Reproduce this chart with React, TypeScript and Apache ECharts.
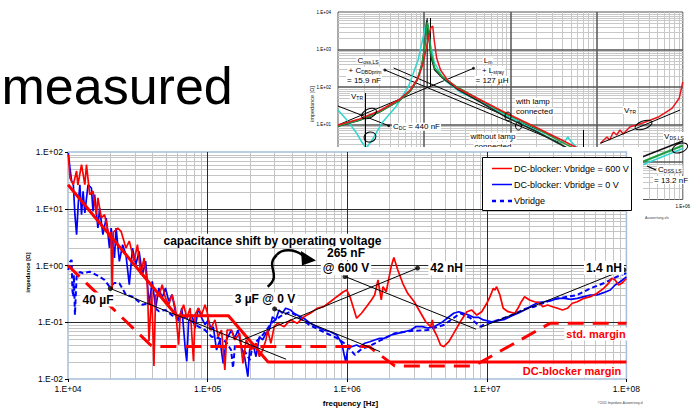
import React, { useEffect, useRef } from 'react';
import * as echarts from 'echarts';

const FONT = '"Liberation Sans", Arial, Helvetica, sans-serif';

// ---------- main chart: impedance of the DC-blocker ----------
const SERIES_600V = 'DC-blocker: Vbridge = 600 V';
const SERIES_0V = 'DC-blocker: Vbridge = 0 V';
const SERIES_VBRIDGE = 'Vbridge';

const freqRange = [1e4, 1e8];
const impRange = [1e-2, 1e2];

const red600V: number[][] = [
  [10050, 90], [10330, 34.8], [10900, 26.5], [11520, 46.3], [11770, 26.2], [12500, 59.7], [13200, 26.5],
  [13560, 59.7], [14310, 17.7], [15100, 20.5], [15960, 7.86], [16380, 15.5], [17320, 6.87], [18280, 7.86],
  [19830, 3.05], [20300, 3.89], [20720, 0.385], [21160, 3.89], [22700, 4.58], [23990, 4.0], [26000, 2.03],
  [27480, 2.7], [29780, 1.2], [31450, 2.33], [33230, 0.689], [35070, 1.355], [37000, 0.459], [38040, 0.0468],
  [39750, 0.351], [41270, 0.0169], [42430, 0.306], [44780, 0.29], [47250, 0.459], [49930, 0.267],
  [52700, 0.204], [55610, 0.306], [58760, 0.178], [62000, 0.0402], [63700, 0.136], [67300, 0.204],
  [71000, 0.119], [75000, 0.178], [79200, 0.0205], [81400, 0.136], [85900, 0.178], [90700, 0.136],
  [95800, 0.204], [99600, 0.146], [104100, 0.073], [112900, 0.11], [119100, 0.0556], [125700, 0.073],
  [132900, 0.0144], [137900, 0.073], [148000, 0.073], [156400, 0.0487], [169700, 0.0638], [179100, 0.0189],
  [188900, 0.0487], [205000, 0.0324], [222300, 0.0426], [235000, 0.0247], [248000, 0.0324], [261700, 0.0487],
  [269000, 0.073], [284000, 0.0426], [300000, 0.0835], [317000, 0.0958], [353500, 0.0835], [393500, 0.11],
  [438500, 0.0958], [489000, 0.125], [545000, 0.144], [608000, 0.176], [678000, 0.188], [756000, 0.23],
  [843000, 0.282], [940000, 0.345], [992000, 0.37], [1047000, 0.282], [1168000, 0.1175], [1266000, 0.144],
  [1374000, 0.188], [1491000, 0.247], [1573000, 0.302], [1662000, 0.555], [1754000, 0.247], [1804000, 0.423],
  [1903000, 0.345], [2065000, 0.953], [2158000, 1.39], [2304000, 0.834], [2499000, 0.486], [2711000, 0.324],
  [3020000, 0.23], [3367000, 0.144], [3650000, 0.102], [3960000, 0.0835], [4070000, 0.11], [4180000, 0.073],
  [4420000, 0.0556], [4660000, 0.0397], [4920000, 0.0371], [5340000, 0.0454], [5790000, 0.0638],
  [6460000, 0.102], [7200000, 0.1535], [7810000, 0.164], [8480000, 0.134], [9200000, 0.1535], [1.0e7, 0.216],
  [1.054e7, 0.282], [1.113e7, 0.396], [1.144e7, 0.37], [1.176e7, 0.423], [1.241e7, 0.302], [1.31e7, 0.176],
  [1.42e7, 0.1535], [1.585e7, 0.144], [1.672e7, 0.176], [1.768e7, 0.23], [1.865e7, 0.282], [2.024e7, 0.247],
  [2.195e7, 0.23], [2.382e7, 0.221], [2.513e7, 0.188], [2.727e7, 0.201], [2.959e7, 0.188], [3.21e7, 0.176],
  [3.483e7, 0.164], [3.779e7, 0.176], [4.1e7, 0.216], [4.45e7, 0.23], [4.96e7, 0.264], [5.53e7, 0.282],
  [6.16e7, 0.324], [6.87e7, 0.396], [7.45e7, 0.486], [7.86e7, 0.595], [8.3e7, 0.555], [8.78e7, 0.453],
  [9.26e7, 0.486], [1e8, 0.59],
];

const blue0V: number[][] = [
  [10050, 96], [10330, 52.2], [10620, 30.5], [10900, 28.4], [11210, 7.86], [11520, 3.49], [11830, 11.8],
  [12160, 26.5], [12500, 7.86], [12830, 20.3], [13200, 8.41], [13920, 26.5], [14710, 23.2], [15100, 9.02],
  [15510, 17.7], [16380, 4.58], [16840, 10.3], [17780, 3.49], [18780, 6.87], [19830, 2.03], [20380, 4.58],
  [21520, 1.355], [22110, 4.58], [23330, 1.186], [24630, 2.33], [26000, 1.55], [27480, 0.459], [28990, 2.03],
  [30600, 1.03], [32310, 1.78], [34100, 0.689], [36000, 1.186], [38040, 0.204], [40150, 0.527],
  [42430, 0.178], [44780, 0.402], [47250, 0.267], [49930, 0.402], [52700, 0.234], [55610, 0.306],
  [58760, 0.156], [62000, 0.104], [65420, 0.178], [69100, 0.0352], [70900, 0.0205], [73100, 0.104],
  [77200, 0.136], [81400, 0.0792], [85900, 0.178], [90700, 0.119], [95800, 0.0906], [101200, 0.11],
  [106300, 0.073], [109800, 0.0835], [115900, 0.0324], [122500, 0.0487], [129300, 0.0189], [136400, 0.0487],
  [148000, 0.073], [156400, 0.0528], [165000, 0.073], [174200, 0.0371], [184000, 0.0247], [194200, 0.011],
  [200000, 0.0324], [210700, 0.0426], [222300, 0.0247], [235000, 0.0556], [248000, 0.0487], [261700, 0.0638],
  [276400, 0.073], [291600, 0.125], [307800, 0.11], [325200, 0.164], [343100, 0.144], [362200, 0.176],
  [393500, 0.164], [415400, 0.144], [438500, 0.134], [489000, 0.1175], [545000, 0.0958], [608000, 0.0835],
  [678000, 0.073], [756000, 0.0681], [843000, 0.0596], [913000, 0.0426], [975000, 0.0202], [1020000, 0.0397],
  [1076000, 0.0371], [1168000, 0.0397], [1232000, 0.0371], [1336000, 0.0426], [1450000, 0.0454],
  [1573000, 0.0487], [1707000, 0.0521], [1842000, 0.0521], [2065000, 0.0596], [2304000, 0.0638],
  [2560000, 0.0681], [2860000, 0.073], [3100000, 0.0835], [3460000, 0.0835], [3760000, 0.0792],
  [4180000, 0.0835], [4660000, 0.0958], [5200000, 0.1175], [5790000, 0.144], [6290000, 0.1535],
  [6820000, 0.144], [7400000, 0.134], [8020000, 0.122], [8700000, 0.122], [9440000, 0.11], [1.084e7, 0.102],
  [1.207e7, 0.1065], [1.346e7, 0.1127], [1.502e7, 0.129], [1.672e7, 0.144], [1.865e7, 0.164], [2.08e7, 0.193],
  [2.318e7, 0.221], [2.586e7, 0.23], [2.885e7, 0.24], [3.21e7, 0.264], [3.584e7, 0.264], [4.0e7, 0.2535],
  [4.45e7, 0.264], [4.96e7, 0.282], [5.53e7, 0.302], [6.16e7, 0.302], [6.87e7, 0.332], [7.66e7, 0.37],
  [8.3e7, 0.453], [9.02e7, 0.518], [1e8, 0.627],
];

const vbridge: number[][] = [
  [10050, 0.834], [10330, 1.153], [10620, 1.25], [10750, 0.37], [10900, 0.282], [11020, 0.68], [11210, 0.134],
  [11520, 0.635], [12160, 0.768], [12830, 0.729], [14310, 0.778], [15510, 0.708], [16840, 0.635],
  [18280, 0.555], [19830, 0.423], [21520, 0.492], [23330, 0.486], [26000, 0.306], [28990, 0.282],
  [34100, 0.204], [38040, 0.216], [44780, 0.156], [49930, 0.164], [58760, 0.119], [69100, 0.125],
  [77200, 0.104], [85900, 0.0835], [95800, 0.073], [106800, 0.0556], [119100, 0.0528], [135800, 0.0449],
  [147300, 0.0324], [152100, 0.0156], [157000, 0.0397], [179100, 0.0352], [200600, 0.0216], [210700, 0.0397],
  [248000, 0.0596], [291600, 0.101], [343100, 0.134], [390500, 0.152], [438500, 0.129], [537000, 0.0895],
  [678000, 0.0673], [843000, 0.0528], [992000, 0.0397], [1135000, 0.0265], [1266000, 0.0338],
  [1412000, 0.0371], [1754000, 0.0487], [2180000, 0.0638], [2860000, 0.0701], [3760000, 0.073],
  [4920000, 0.0895], [6460000, 0.144], [7610000, 0.119], [8960000, 0.0835], [1e7, 0.0958], [1.144e7, 0.105],
  [1.46e7, 0.129], [1.865e7, 0.171], [2.195e7, 0.188], [2.885e7, 0.247], [3.779e7, 0.282], [4.45e7, 0.302],
  [5.53e7, 0.396], [6.87e7, 0.486], [8.54e7, 0.635], [1e8, 0.738],
];

// limit curves
const dcBlockerMargin: number[][] = [[1e4, 26.5], [6.0e4, 0.13], [1.41e5, 0.13], [2.71e5, 0.02], [1e8, 0.02]];
const stdMargin: number[][] = [
  [1e4, 1.0], [4.0e4, 0.0375], [1.43e6, 0.0375], [2.19e6, 0.017], [8.09e6, 0.017], [2.84e7, 0.096], [1e8, 0.096],
];

// asymptotes of the measured impedance (C and L fits)
const fit40uF: number[][] = [[2.01e4, 0.393], [3.65e5, 0.0223]];
const fit3uF: number[][] = [[3.02e5, 0.172], [1.72e6, 0.0304]];
const fit265nF: number[][] = [[9.64e5, 0.64], [8.36e6, 0.0755]];
const fit42nH: number[][] = [[1.71e5, 0.047], [3.19e6, 0.9]];
const fit1p4nH: number[][] = [[9.06e6, 0.0813], [9.6e7, 0.84]];
const fitMarkers: number[][] = [[2.01e4, 0.393], [3.02e5, 0.172], [9.64e5, 0.64], [3.19e6, 0.9], [9.6e7, 0.84]];

// ---------- chart behind: transformer impedance ----------
const backFreqRange = [1e2, 1e6];
const backImpRange = [1e-1, 1e4];

const lampRed: number[][] = [
  [100, 9.7], [178, 14], [299, 22.9], [504, 45], [689, 83], [850, 174], [968, 410], [1047, 970], [1132, 2290],
  [1192, 3740], [1256, 4240], [1306, 1790], [1394, 593], [1548, 284], [1858, 154], [2412, 94], [4064, 51],
  [8890, 20.3], [19450, 8.6], [39350, 3.86], [62940, 2.22],
];
const lampGreen: number[][] = [
  [100, 9.1], [178, 13.2], [299, 21.5], [504, 42.4], [689, 78], [828, 154], [943, 410], [1020, 1400],
  [1088, 5400], [1132, 3300], [1192, 860], [1324, 321], [1631, 185], [2412, 100], [4064, 51], [8890, 19],
  [19450, 8.1], [39350, 3.4], [62940, 1.97],
];
const noLampDark: number[][] = [
  [100, 9.0], [178, 13.0], [299, 21.2], [504, 42], [689, 77], [828, 150], [943, 400], [1020, 1350],
  [1074, 6100], [1132, 2290], [1192, 671], [1324, 284], [1631, 174], [2412, 88.5], [4064, 45], [8890, 15.8],
  [19450, 6.7], [39350, 2.84], [55200, 1.85],
];
const noLampCyan: number[][] = [
  [100, 24.4], [126.5, 13.2], [164, 5.93], [192, 3.21], [213, 2.36], [249, 3.86], [323, 10.96], [466, 29.3],
  [654, 100], [850, 525], [1012, 3311], [1074, 6120], [1153, 1792], [1313, 437], [1705, 154], [2609, 73.6],
  [4880, 37.4], [9620, 15.8], [19450, 7.13], [35450, 3.21], [42540, 3.48], [46380, 4.64], [50700, 3.48],
  [58200, 2.51], [71700, 1.85],
];
const hfRed: number[][] = [
  [110900, 3.15], [131700, 4.64], [141300, 3.86], [156900, 6.31], [171000, 5.25], [186800, 7.13],
  [203600, 5.58], [242500, 8.58], [343000, 10.96], [530000, 16.1], [750000, 27], [908000, 50], [1000000, 136],
];
const cDcLine: number[][] = [[100, 31], [388, 9.3]];
const cOssLineA: number[][] = [[350, 284], [39050, 3.15]];
const cOssLineB: number[][] = [[442, 321], [39350, 3.86]];
const lmLine: number[][] = [[100, 9.7], [3730, 315]];
const resonanceA: number[][] = [[1083, 6920], [1083, 100]];
const resonanceB: number[][] = [[1183, 6920], [1183, 100]];
const vTrLine: number[][] = [[110900, 3.15], [932000, 24.4]];
const vDsBlack: number[][] = [[314800, 1.28], [1e6, 3.63]];
const vDsGreen: number[][] = [[314800, 0.94], [1e6, 2.75]];
const vDsCyan: number[][] = [[314800, 0.78], [1e6, 2.29]];
const backMarkers: number[][] = [[350, 284], [3730, 315], [388, 9.3]];
// only these tick labels of the chart behind are left uncovered
const backFreqLabels = [1e6];
const backImpLabels = [1e1, 1e2, 1e3, 1e4];

function expLabel(v: number): string {
  const e = Math.round(Math.log10(v));
  return '1.E' + (e < 0 ? '-' : '+') + String(Math.abs(e)).padStart(2, '0');
}

function labelsOnly(list: number[]) {
  return (v: number) => (list.some((t) => Math.abs(Math.log10(t) - Math.log10(v)) < 1e-6) ? expLabel(v) : '');
}

// 2..9 of every decade between two powers of ten
function minorValues(from: number, to: number): number[] {
  const out: number[] = [];
  for (let d = from; d < to * 0.999; d *= 10) {
    for (let m = 2; m <= 9; m++) out.push(d * m);
  }
  return out;
}

function gridLines(values: number[], dir: 'v' | 'h', anchor: number, stroke: string, width: number, z: number) {
  return {
    type: 'custom',
    silent: true,
    z,
    data: values.map((v) => (dir === 'v' ? [v, anchor] : [anchor, v])),
    renderItem: (params: any, api: any) => {
      const cs = params.coordSys;
      const p = api.coord([api.value(0), api.value(1)]);
      if (dir === 'v') {
        const x = Math.round(p[0]) + 0.5;
        return { type: 'line', shape: { x1: x, y1: cs.y, x2: x, y2: cs.y + cs.height }, style: { stroke, lineWidth: width } };
      }
      const y = Math.round(p[1]) + 0.5;
      return { type: 'line', shape: { x1: cs.x, y1: y, x2: cs.x + cs.width, y2: y }, style: { stroke, lineWidth: width } };
    },
  };
}

function line(name: string, data: number[][], color: string, width: number, z: number, type: any = 'solid') {
  return {
    type: 'line',
    name,
    data,
    symbol: 'none',
    showSymbol: false,
    silent: true,
    z,
    lineStyle: { color, width, type, cap: 'butt' },
    itemStyle: { color },
  };
}

function label(text: string, x: number, y: number, size: number, color = '#000', align = 'center') {
  return {
    type: 'text',
    x,
    y,
    z: 100,
    silent: true,
    style: {
      text,
      fill: color,
      fontSize: size,
      fontWeight: 'bold',
      fontFamily: FONT,
      align,
      verticalAlign: 'middle',
      backgroundColor: '#fff',
      padding: [1, 2],
    },
  };
}

function logAxis(range: number[], labelSize: number, margin: number, major: string, majorWidth: number, showTicks: boolean, formatter: any) {
  return {
    type: 'log',
    logBase: 10,
    min: range[0],
    max: range[1],
    z: 3,
    axisLine: { show: false },
    axisTick: { show: showTicks, length: 3, lineStyle: { color: '#000', width: 1 } },
    axisLabel: { formatter, fontSize: labelSize, color: '#000', fontFamily: FONT, margin },
    splitLine: { show: true, showMinLine: false, showMaxLine: false, lineStyle: { color: major, width: majorWidth } },
    minorTick: { show: false },
    minorSplitLine: { show: false },
  };
}

function buildMainOption() {
  const legendRows = [
    { name: SERIES_600V, color: '#ff0000', dash: null as number[] | null, y: 21.5 },
    { name: SERIES_0V, color: '#0000ff', dash: null, y: 37.5 },
    { name: SERIES_VBRIDGE, color: '#0000ff', dash: [4, 4], y: 54 },
  ];
  const legend: any[] = [
    { type: 'rect', z: 100, silent: true, shape: { x: 482.5, y: 10.5, width: 149, height: 53 }, style: { fill: '#fff', stroke: '#000', lineWidth: 1 } },
  ];
  legendRows.forEach((r) => {
    legend.push({
      type: 'line', z: 101, silent: true,
      shape: { x1: 492, y1: r.y, x2: 512, y2: r.y },
      style: { stroke: r.color, lineWidth: r.dash ? 2.5 : 1.5, lineDash: r.dash || undefined },
    });
    legend.push({
      type: 'text', z: 101, silent: true, x: 514, y: r.y,
      style: { text: r.name, fill: '#000', fontSize: 9, fontFamily: FONT, verticalAlign: 'middle' },
    });
  });

  return {
    animation: false,
    backgroundColor: '#fff',
    grid: { left: 68, top: 5, width: 565, height: 227, show: true, backgroundColor: '#fff', borderColor: '#a7bfdc', borderWidth: 1.5 },
    xAxis: logAxis(freqRange, 8.5, 5, '#2a2a2a', 1, true, expLabel),
    yAxis: logAxis(impRange, 8.5, 5, '#2a2a2a', 1, true, expLabel),
    series: [
      gridLines(minorValues(freqRange[0], freqRange[1]), 'v', 1, '#c4c4c4', 1, 1),
      gridLines(minorValues(impRange[0], impRange[1]), 'h', 1e5, '#c4c4c4', 1, 1),
      line(SERIES_VBRIDGE, vbridge, '#0000ff', 2, 5, [5, 3]),
      line(SERIES_0V, blue0V, '#0000ff', 1.7, 6),
      line(SERIES_600V, red600V, '#ff0000', 1.7, 7),
      line('std. margin', stdMargin, '#ff0000', 3, 8, [16, 9]),
      line('DC-blocker margin', dcBlockerMargin, '#ff0000', 3, 8),
      line('40 µF', fit40uF, '#000', 1, 9),
      line('3 µF @ 0 V', fit3uF, '#000', 1, 9),
      line('265 nF @ 600 V', fit265nF, '#000', 1, 9),
      line('42 nH', fit42nH, '#000', 1, 9),
      line('1.4 nH', fit1p4nH, '#000', 1, 9),
      {
        type: 'scatter', data: fitMarkers, symbol: 'circle', symbolSize: 5, silent: true, z: 10,
        itemStyle: { color: '#000' },
      },
    ],
    graphic: [
      label('capacitance shift by operating voltage', 272.5, 93.7, 12),
      label('265 nF', 346, 106.3, 12),
      label('@ 600 V', 346, 121.3, 12),
      label('40 µF', 98, 152.5, 12),
      label('3 µF @ 0 V', 265, 152.3, 12),
      label('42 nH', 446.7, 121.3, 12),
      label('1.4 nH', 604, 120.7, 12),
      label('std. margin', 596, 187, 11, '#ff0000'),
      label('DC-blocker margin', 572, 224, 11, '#ff0000'),
      {
        type: 'bezierCurve', z: 100, silent: true,
        shape: { x1: 267.7, y1: 139.7, cpx1: 283, cpy1: 127, cpx2: 264, cpy2: 120, x2: 276.7, y2: 108 },
        style: { stroke: '#000', lineWidth: 2.5, fill: 'none' },
      },
      {
        type: 'bezierCurve', z: 100, silent: true,
        shape: { x1: 276.7, y1: 108, cpx1: 281, cpy1: 102, cpx2: 294, cpy2: 101, x2: 303, y2: 108.5 },
        style: { stroke: '#000', lineWidth: 2.5, fill: 'none' },
      },
      {
        type: 'polygon', z: 100, silent: true,
        shape: { points: [[316, 113.5], [301, 104], [302, 118.5]] },
        style: { fill: '#000' },
      },
      {
        type: 'text', z: 100, silent: true, x: 350.5, y: 256.3,
        style: { text: 'frequency [Hz]', fill: '#000', fontSize: 8, fontWeight: 'bold', fontFamily: FONT, align: 'center', verticalAlign: 'middle' },
      },
      {
        type: 'text', z: 100, silent: true, x: 28.3, y: 125.5, rotation: Math.PI / 2,
        style: { text: 'impedance [Ω]', fill: '#000', fontSize: 5.8, fontWeight: 'bold', fontFamily: FONT, align: 'center', verticalAlign: 'middle' },
      },
      {
        type: 'text', z: 100, silent: true, x: 621, y: 256,
        style: { text: '©2011 Impedanz-Auswertung.xls', fill: '#444', fontSize: 3.2, fontFamily: FONT, align: 'center', verticalAlign: 'middle' },
      },
      ...legend,
    ],
  };
}

function rich(text: string, x: number, y: number, align = 'center') {
  return {
    type: 'text', x, y, z: 100, silent: true,
    style: {
      text, align, verticalAlign: 'middle', fill: '#000', fontSize: 8, fontFamily: FONT,
      backgroundColor: '#fff', padding: [0, 1],
      rich: {
        n: { fontSize: 8, fontFamily: FONT, fill: '#000' },
        s: { fontSize: 5, fontFamily: FONT, fill: '#000', verticalAlign: 'bottom', padding: [3, 0, 0, 0] },
      },
    },
  };
}

function ellipse(x: number, y: number, rx: number, ry: number, rotation: number) {
  return {
    type: 'ellipse', x, y, rotation, z: 99, silent: true,
    shape: { cx: 0, cy: 0, rx, ry },
    style: { fill: 'none', stroke: '#000', lineWidth: 1 },
  };
}

function buildBackOption() {
  return {
    animation: false,
    backgroundColor: '#fff',
    grid: { left: 338, top: 12, width: 353, height: 187.5, show: true, backgroundColor: '#fff', borderColor: '#555', borderWidth: 1 },
    xAxis: logAxis(backFreqRange, 4.5, 4, '#555', 1.5, false, labelsOnly(backFreqLabels)),
    yAxis: logAxis(backImpRange, 4.5, 7, '#555', 1.5, false, labelsOnly(backImpLabels)),
    series: [
      gridLines(minorValues(backFreqRange[0], backFreqRange[1]), 'v', 1, '#c8c8c8', 1, 1),
      gridLines(minorValues(backImpRange[0], backImpRange[1]), 'h', 1e4, '#c8c8c8', 1, 1),
      line('C_DC', cDcLine, '#000', 1, 4),
      line('C_oss,LS a', cOssLineA, '#000', 1, 4),
      line('C_oss,LS b', cOssLineB, '#000', 1, 4),
      line('L_m + L_stray', lmLine, '#000', 1, 4),
      line('resonance a', resonanceA, '#000', 1, 4),
      line('resonance b', resonanceB, '#000', 1, 4),
      line('without lamp cyan', noLampCyan, '#2fd6cf', 1.5, 5),
      line('without lamp', noLampDark, '#1b2b1b', 1.5, 6),
      line('with lamp green', lampGreen, '#1e9e3e', 1.5, 6),
      line('with lamp', lampRed, '#e8161b', 1.5, 7),
      line('with lamp hf', hfRed, '#e8161b', 1.5, 7),
      line('V_TR', vTrLine, '#000', 1, 8),
      line('V_DS,LS', vDsBlack, '#111', 1.5, 8),
      line('V_DS,LS green', vDsGreen, '#1e9e3e', 2, 8),
      line('V_DS,LS cyan', vDsCyan, '#2fd6cf', 1.5, 8),
      {
        type: 'scatter', data: backMarkers, symbol: 'circle', symbolSize: 3, silent: true, z: 9,
        itemStyle: { color: '#000' },
      },
    ],
    graphic: [
      {
        type: 'text', x: 1.5, y: 85.5, silent: true,
        style: { text: 'measured', fill: '#000', fontSize: 52, fontFamily: FONT, verticalAlign: 'middle' },
      },
      {
        type: 'text', x: 312, y: 104, rotation: Math.PI / 2, silent: true,
        style: { text: 'impedance [Ω]', fill: '#222', fontSize: 5.5, fontFamily: FONT, align: 'center', verticalAlign: 'middle' },
      },
      { type: 'line', z: 98, silent: true, shape: { x1: 365.5, y1: 93, x2: 365.5, y2: 147 }, style: { stroke: '#000', lineWidth: 1 } },
      { type: 'line', z: 98, silent: true, shape: { x1: 583.5, y1: 130, x2: 583.5, y2: 147 }, style: { stroke: '#000', lineWidth: 1 } },
      ellipse(369, 113.5, 8, 4.5, 0.45),
      ellipse(370, 137, 6, 5, 0.3),
      ellipse(508, 116.5, 3, 4.5, 0),
      ellipse(518.5, 126, 3, 4, 0),
      ellipse(643.5, 125, 9, 4, 0.35),
      ellipse(680, 148, 8, 4.5, 0.35),
      rich('{n|C}{s|oss,LS}', 368, 60),
      rich('{n|+ C}{s|DBDprim}', 365, 70.7),
      rich('{n|= 15.9 nF}', 364, 80),
      rich('{n|L}{s|m}', 488, 60),
      rich('{n|+ L}{s|stray}', 493, 70),
      rich('{n|= 127 µH}', 492, 80),
      rich('{n|V}{s|TR}', 357, 96.7),
      rich('{n|C}{s|DC}{n| = 440 nF}', 392, 126.7, 'left'),
      rich('{n|with lamp}', 515, 101.7, 'left'),
      rich('{n|connected}', 515, 111.7, 'left'),
      rich('{n|without lamp}', 493, 136.7),
      rich('{n|connected}', 493, 146),
      rich('{n|V}{s|TR}', 630, 110),
      rich('{n|V}{s|DS,LS}', 674, 136),
      rich('{n|C}{s|DSS,LS}', 657, 169.5, 'left'),
      rich('{n|= 13.2 nF}', 653, 180, 'left'),
      { type: 'line', z: 100, silent: true, shape: { x1: 647, y1: 166, x2: 656, y2: 170 }, style: { stroke: '#000', lineWidth: 1.2 } },
      {
        type: 'text', x: 645, y: 218, silent: true,
        style: { text: 'Auswertung.xls', fill: '#444', fontSize: 3.5, fontFamily: FONT, verticalAlign: 'middle' },
      },
    ],
  };
}

export default function App() {
  const backRef = useRef<HTMLDivElement>(null);
  const mainRef = useRef<HTMLDivElement>(null);

  useEffect(() => {
    const back = echarts.init(backRef.current as HTMLDivElement, undefined, { renderer: 'svg' });
    back.setOption(buildBackOption() as any);
    const main = echarts.init(mainRef.current as HTMLDivElement, undefined, { renderer: 'svg' });
    main.setOption(buildMainOption() as any);
    return () => {
      back.dispose();
      main.dispose();
    };
  }, []);

  return (
    <div style={{ position: 'fixed', left: 0, top: 0, width: 693, height: 408, background: '#fff', overflow: 'hidden' }}>
      <div ref={backRef} style={{ position: 'absolute', left: 0, top: 0, width: 693, height: 408 }} />
      <div ref={mainRef} style={{ position: 'absolute', left: 0, top: 147, width: 643, height: 261, background: '#fff' }} />
    </div>
  );
}
